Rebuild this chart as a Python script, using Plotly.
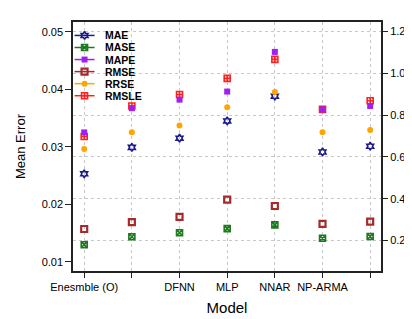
import plotly.graph_objects as go

models = ["Enesmble (O)", "", "DFNN", "MLP", "NNAR", "NP-ARMA", ""]
xpos = [1, 2, 3, 4, 5, 6, 7]

# left axis (Mean Error)
mae   = [0.0253, 0.0299, 0.0315, 0.0345, 0.0388, 0.0291, 0.0301]
mape  = [0.0325, 0.0367, 0.0382, 0.0396, 0.0465, 0.0365, 0.0371]
rmse  = [0.0157, 0.0169, 0.0178, 0.0208, 0.0197, 0.0166, 0.0170]
rmsle = [0.0318, 0.0371, 0.0391, 0.0419, 0.0452, 0.0365, 0.0380]
# right axis
mase  = [0.180, 0.218, 0.237, 0.257, 0.275, 0.211, 0.219]
rrse  = [0.638, 0.718, 0.750, 0.838, 0.911, 0.718, 0.729]

left_ticks = [0.01, 0.02, 0.03, 0.04, 0.05]
right_ticks = [0.2, 0.4, 0.6, 0.8, 1.0, 1.2]

series = [
    ("MAE", mae, "y", "#1a1a8c", "hexagram-open", 1.6),
    ("MASE", mase, "y2", "#1e7a1e", "square-x-open", 1.6),
    ("MAPE", mape, "y", "#a020f0", "square", 0),
    ("RMSE", rmse, "y", "#a52a2a", "square-open", 2.2),
    ("RRSE", rrse, "y2", "#ffa500", "circle", 0),
    ("RMSLE", rmsle, "y", "#ff2020", "square-cross-open", 1.6),
]

fig = go.Figure()
order = ["RMSLE", "RRSE", "RMSE", "MAPE", "MASE", "MAE"]
lookup = {s[0]: s for s in series}
for name in order:
    n, vals, ax, col, sym, lw = lookup[name]
    fig.add_trace(go.Scatter(
        x=xpos, y=vals, yaxis=ax, mode="markers", showlegend=False, name=n,
        marker=dict(symbol=sym, size=6, color=col, line=dict(color=col, width=lw)),
    ))

# custom compact legend (top-left, inside the plot area)
leg_top, leg_step = 0.946, 0.0484
leg_x0, leg_x1, leg_xm, leg_xt = 0.005, 0.070, 0.0375, 0.097
for i, (n, vals, ax, col, sym, lw) in enumerate(series):
    yy = leg_top - i * leg_step
    fig.add_shape(type="line", xref="paper", yref="paper",
                  x0=leg_x0, x1=leg_x1, y0=yy, y1=yy,
                  line=dict(color=col, width=1.5))
    fig.add_trace(go.Scatter(
        x=[leg_xm], y=[yy], xaxis="x2", yaxis="y3", mode="markers",
        showlegend=False, hoverinfo="skip",
        marker=dict(symbol=sym, size=6, color=col, line=dict(color=col, width=lw)),
    ))
    fig.add_annotation(x=leg_xt, y=yy, xref="paper", yref="paper", text=f"<b>{n}</b>",
                       showarrow=False, xanchor="left", yanchor="middle",
                       font=dict(size=10.5, color="black"))

font = "Liberation Sans, Arial, sans-serif"
fig.update_layout(
    width=412, height=319,
    margin=dict(l=59, r=39, t=13, b=56),
    paper_bgcolor="white", plot_bgcolor="white",
    font=dict(family=font, size=11, color="black"),
    showlegend=False,
    xaxis=dict(
        range=[0.765, 7.227], tickmode="array", tickvals=xpos, ticktext=models,
        showline=True, linecolor="#222", linewidth=1.5, mirror=True,
        ticks="outside", ticklen=5, tickcolor="#222",
        showgrid=True, gridcolor="#c8c8c8", griddash="dot", gridwidth=1,
        zeroline=False,
        title=dict(text="Model", font=dict(size=15), standoff=11),
    ),
    xaxis2=dict(range=[0, 1], overlaying="x", visible=False),
    yaxis=dict(
        range=[0.0084, 0.0517], tickmode="array", tickvals=left_ticks,
        ticktext=["0.01", "0.02", "0.03", "0.04", "0.05"],
        showline=True, linecolor="#222", linewidth=1.5, mirror=True,
        ticks="outside", ticklen=6, tickcolor="#222",
        showgrid=False, zeroline=False,
        title=dict(text="Mean Error", font=dict(size=13), standoff=13),
    ),
    yaxis2=dict(
        range=[0.054, 1.246], overlaying="y", side="right",
        tickmode="array", tickvals=right_ticks,
        ticktext=["0.2", "0.4", "0.6", "0.8", "1.0", "1.2"],
        ticks="outside", ticklen=6, tickcolor="#222",
        showgrid=True, gridcolor="#c8c8c8", griddash="dot", gridwidth=1,
        zeroline=False, showline=False,
    ),
    yaxis3=dict(range=[0, 1], overlaying="y", visible=False),
)

fig.write_html("out.html")
